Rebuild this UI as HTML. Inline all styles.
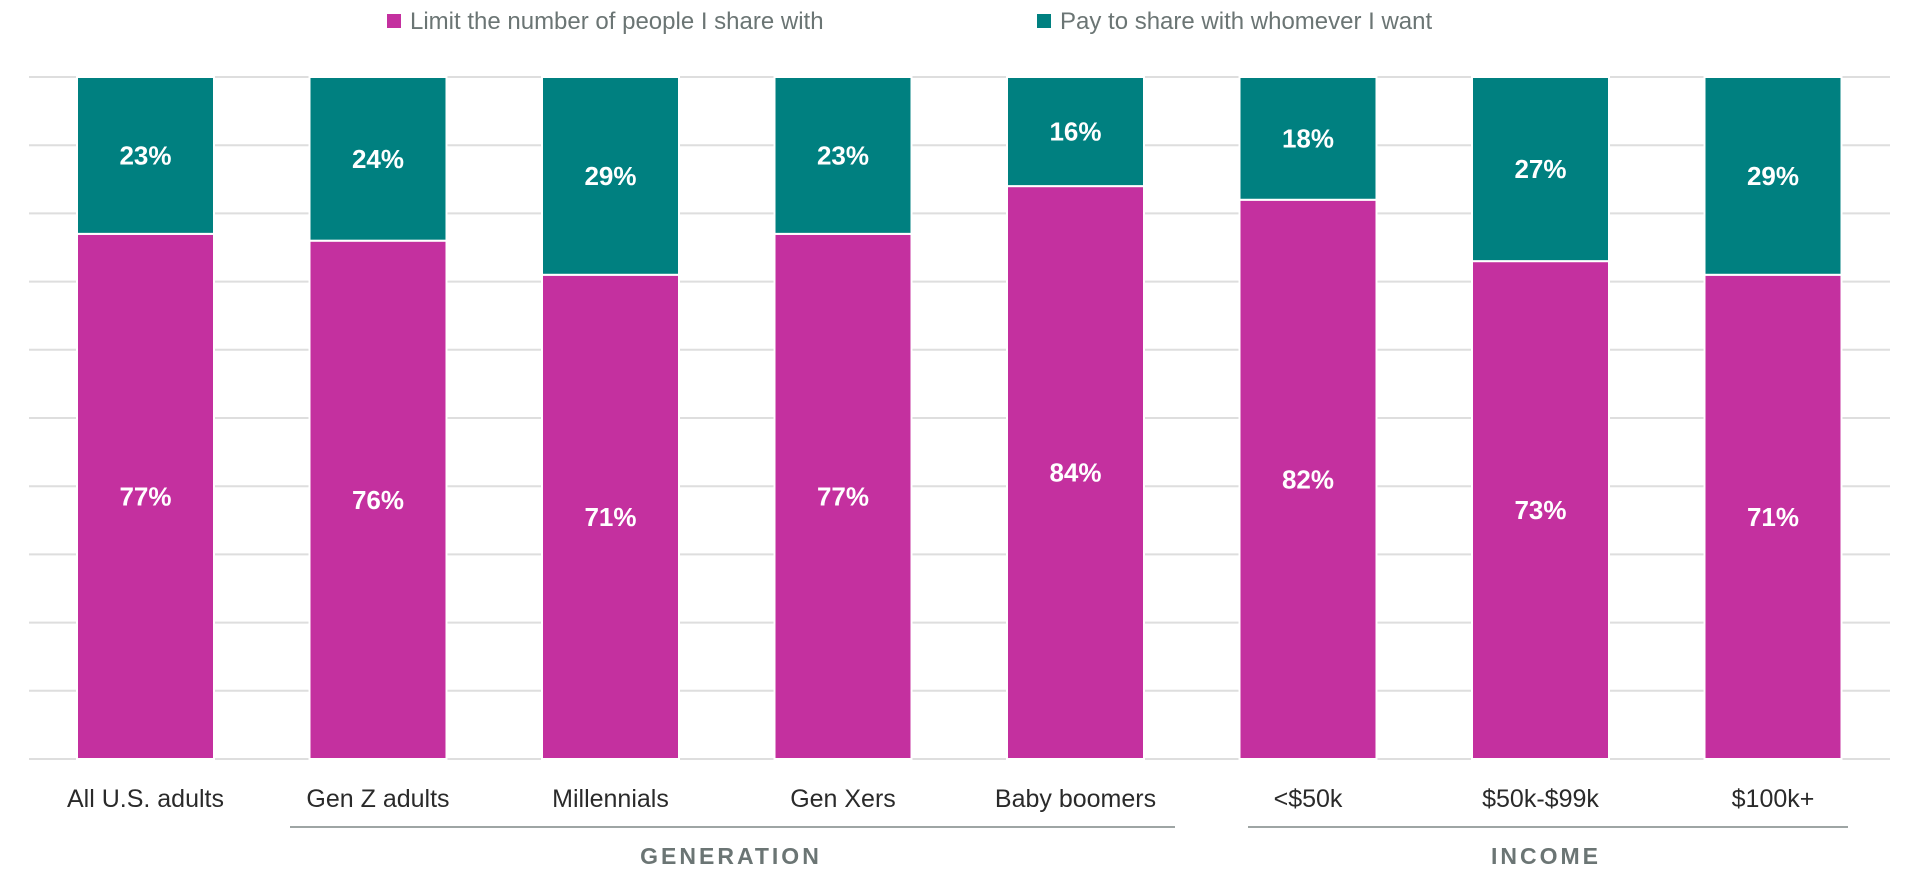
<!DOCTYPE html>
<html><head><meta charset="utf-8"><style>
body{margin:0;background:#fff;width:1919px;height:883px;overflow:hidden;font-family:"Liberation Sans",sans-serif}
</style></head><body>
<svg id="chart" width="1919" height="883" xmlns="http://www.w3.org/2000/svg" font-family="Liberation Sans, sans-serif">
<g>
<g><rect x="387" y="14" width="14" height="14" fill="#c4309f"/><text x="410" y="29" font-size="24" fill="#6b7574">Limit the number of people I share with</text></g>
<g><rect x="1037" y="14" width="14" height="14" fill="#008080"/><text x="1060" y="29" font-size="24" fill="#6b7574">Pay to share with whomever I want</text></g>
</g>
<g id="grid"></g>
<g id="bars"></g>
<g id="xlabels"></g>
<g><line x1="290" y1="827" x2="1175" y2="827" stroke="#7f8786" stroke-width="1.5"/><text x="731" y="864" text-anchor="middle" font-size="23" font-weight="bold" letter-spacing="3" fill="#6b7574">GENERATION</text></g>
<g><line x1="1248" y1="827" x2="1848" y2="827" stroke="#7f8786" stroke-width="1.5"/><text x="1546" y="864" text-anchor="middle" font-size="23" font-weight="bold" letter-spacing="3" fill="#6b7574">INCOME</text></g>
</svg>
<script>
const categories=["All U.S. adults","Gen Z adults","Millennials","Gen Xers","Baby boomers","<$50k","$50k-$99k","$100k+"];
const limitValues=[77,76,71,77,84,82,73,71];
const payValues=[23,24,29,23,16,18,27,29];
const gridTicks=[0,10,20,30,40,50,60,70,80,90,100];
const NS="http://www.w3.org/2000/svg";
const y0=759,y100=77;
function y(v){return y0-(y0-y100)*v/100;}
function x(i){return 77+i*232.5;}
const bw=137;
function mk(tag,attrs,parent){const e=document.createElementNS(NS,tag);for(const k in attrs)e.setAttribute(k,attrs[k]);parent.appendChild(e);return e;}
const grid=document.getElementById('grid');
gridTicks.forEach(t=>{
 const l=mk('line',{x1:29,x2:1890,y1:y(t),y2:y(t),stroke:'#dedede','stroke-width':2},grid);
 
 
});
const bars=document.getElementById('bars');
const xl=document.getElementById('xlabels');
categories.forEach((c,i)=>{
 const g=mk('g',{},bars);
 
 
 const lv=limitValues[i],pv=payValues[i];
 const r1=mk('rect',{x:x(i),y:y(lv),width:bw,height:y(0)-y(lv),fill:'#c4309f',stroke:'#fff','stroke-width':2},g);
 
 
 const r2=mk('rect',{x:x(i),y:y(lv+pv),width:bw,height:y(lv)-y(lv+pv),fill:'#008080',stroke:'#fff','stroke-width':2},g);
 
 
 const t1=mk('text',{x:x(i)+bw/2,y:(y(0)+y(lv))/2+9,'text-anchor':'middle','font-size':26,'font-weight':'bold',fill:'#fff'},g);
 t1.textContent=lv+'%';
 
 
 const t2=mk('text',{x:x(i)+bw/2,y:(y(lv)+y(lv+pv))/2+9,'text-anchor':'middle','font-size':26,'font-weight':'bold',fill:'#fff'},g);
 t2.textContent=pv+'%';
 
 
 const lab=mk('text',{x:x(i)+bw/2,y:807,'text-anchor':'middle','font-size':25,fill:'#2a2a2a'},xl);
 lab.textContent=c;
 
 
});
</script>
</body></html>
